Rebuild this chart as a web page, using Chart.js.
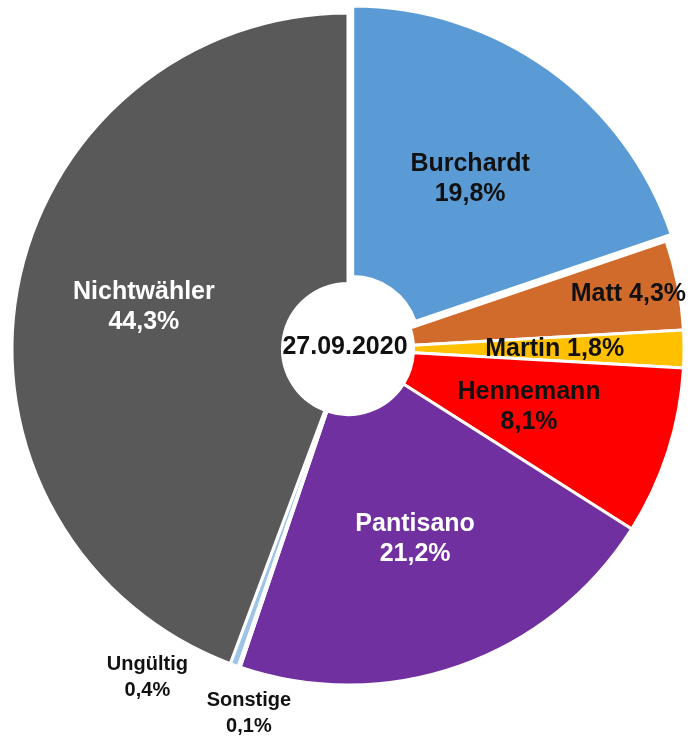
<!DOCTYPE html>
<html>
<head>
<meta charset="utf-8">
<script src="https://cdn.jsdelivr.net/npm/chart.js@4.4.0/dist/chart.umd.min.js"></script>
<style>
html,body{margin:0;padding:0;background:#fff;overflow:hidden;}
#wrap{width:694px;height:742px;position:relative;overflow:hidden;}
#c{position:absolute;left:-10px;top:-10px;}
</style>
</head>
<body>
<div id="wrap"><canvas id="c" width="714" height="752"></canvas></div>
<script>
const categories = ["Burchardt","Matt","Martin","Hennemann","Pantisano","Sonstige","Ungültig","Nichtwähler"];
const values = [19.8, 4.3, 1.8, 8.1, 21.2, 0.1, 0.4, 44.3];
const valueLabels = ["19,8%","4,3%","1,8%","8,1%","21,2%","0,1%","0,4%","44,3%"];
const colors = ["#5B9BD5","#D06B2B","#FFC000","#FF0000","#7030A0","#70AD47","#9DC3E6","#595959"];
// Chart.js v4 moves an arc by offset/4 pixels
const explode = [32,0,0,0,0,0,0,0];
const centerLabel = "27.09.2020";

// label layout: single-line or two-line, radial fraction, angular shift (deg)
const labelOneLine = [false,true,true,false,false,false,false,false];
const labelRadius = [0.60,0.85,0.615,0.566,0.60,1.125,1.146,0.62];
const labelShift  = [0,0,0,0,0,-3.7,11.6,1.3];
const labelColor  = ["#111","#111","#111","#111","#fff","#111","#111","#fff"];
const labelSmall  = [false,false,false,false,false,true,true,false];

const FONT = '"Liberation Sans", Arial, Helvetica, sans-serif';

const labelPlugin = {
  id: 'sliceLabels',
  afterDatasetsDraw(chart){
    const ctx = chart.ctx;
    const meta = chart.getDatasetMeta(0);
    ctx.save();
    ctx.textAlign = 'center';
    ctx.textBaseline = 'middle';
    meta.data.forEach((arc, i) => {
      const p = arc.getProps(['x','y','startAngle','endAngle','outerRadius'], true);
      const midRaw = (p.startAngle + p.endAngle)/2;
      const mid = midRaw + labelShift[i]*Math.PI/180;
      const r = p.outerRadius*labelRadius[i];
      const ex = explode[i]/4;
      const cx = p.x + Math.cos(mid)*r + Math.cos(midRaw)*ex;
      const cy = p.y + Math.sin(mid)*r + Math.sin(midRaw)*ex;
      const size = labelSmall[i] ? 20 : 25;
      const lh = labelSmall[i] ? 26 : 30;
      ctx.font = 'bold ' + size + 'px ' + FONT;
      ctx.fillStyle = labelColor[i];
      if (labelOneLine[i]) {
        ctx.fillText(categories[i] + ' ' + valueLabels[i], cx, cy);
      } else {
        ctx.fillText(categories[i], cx, cy - lh/2);
        ctx.fillText(valueLabels[i], cx, cy + lh/2);
      }
    });
    const a0 = meta.data[0];
    ctx.font = 'bold 25px ' + FONT;
    ctx.fillStyle = '#111';
    ctx.fillText(centerLabel, a0.x - 3, a0.y - 2);
    ctx.restore();
  }
};

new Chart(document.getElementById('c'), {
  type: 'doughnut',
  data: {
    labels: categories,
    datasets: [{
      data: values,
      backgroundColor: colors,
      borderColor: '#ffffff',
      borderWidth: 3,
      offset: explode,
      hoverOffset: 0
    }]
  },
  options: {
    responsive: false,
    animation: false,
    cutout: '19.5%',
    layout: { padding: { left: 4.5, right: 2.5, top: 5.5, bottom: 39.5 } },
    plugins: { legend: { display: false }, tooltip: { enabled: false } },
    events: []
  },
  plugins: [labelPlugin]
});
</script>
</body>
</html>
